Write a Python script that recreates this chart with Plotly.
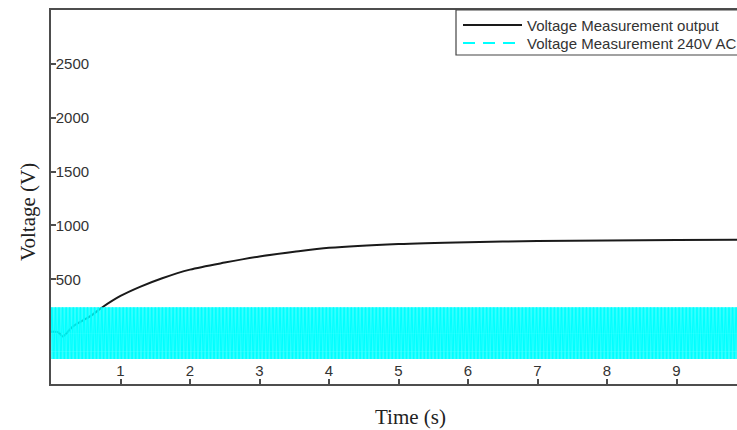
import numpy as np
import plotly.graph_objects as go

# Measured output voltage (V) against time (s)
out_time = [0.0, 0.1, 0.17, 0.31, 0.56, 0.75, 1.0, 1.28, 1.6, 2.0, 2.5, 3.0, 3.5,
            4.0, 5.0, 6.0, 7.0, 8.0, 9.0, 10.0]
out_volt = [12, 10, -30, 60, 155, 245, 345, 430, 510, 590, 655, 712, 755,
            792, 828, 845, 855, 860, 864, 868]

# 240 V AC mains: one period of samples (V), 50 Hz, 10 s record
ac_cycle = [0, 170, 240, 170, 0, -170, -240, -170]
ac_freq = 50.0
ac_duration = 10.0

n_cycles = int(ac_duration * ac_freq)
ac_volt = np.tile(ac_cycle, n_cycles)
ac_time = np.arange(ac_volt.size) / (ac_freq * len(ac_cycle))

series_names = ["Voltage Measurement output", "Voltage Measurement 240V AC"]
x_ticks = [1, 2, 3, 4, 5, 6, 7, 8, 9]
y_ticks = [500, 1000, 1500, 2000, 2500]

BLACK = "#1a1a1a"
CYAN = "#00ffff"
AXIS = "#4d4d4d"

W, H = 737, 430
ML, MT, MB = 51, 10, 46
PW, PH = W - ML, H - MT - MB


def px(x):
    return (x - ML) / PW


def py(y):
    return (H - MB - y) / PH


fig = go.Figure()
fig.add_trace(go.Scatter(
    x=out_time, y=out_volt, mode="lines", name=series_names[0], showlegend=False,
    line=dict(color=BLACK, width=2, shape="spline", smoothing=0.8),
))
fig.add_trace(go.Scatter(
    x=ac_time, y=ac_volt, mode="lines", name=series_names[1], showlegend=False,
    line=dict(color=CYAN, width=1),
))

sans = "Liberation Sans, Arial, sans-serif"
serif = "Liberation Serif, Times New Roman, serif"
tick_font = dict(family=sans, size=15, color="#333333")

# legend box in the top-right corner (runs off the right edge)
shapes = [
    dict(type="rect", xref="paper", yref="paper",
         x0=px(456), x1=px(780), y0=py(55), y1=py(10),
         fillcolor="white", line=dict(color="#444444", width=1.2), layer="above"),
    dict(type="line", xref="paper", yref="paper",
         x0=px(463), x1=px(522), y0=py(25), y1=py(25),
         line=dict(color=BLACK, width=2), layer="above"),
    dict(type="line", xref="paper", yref="paper",
         x0=px(463), x1=px(523), y0=py(43), y1=py(43),
         line=dict(color=CYAN, width=2, dash="12px,8px"), layer="above"),
]

annotations = [
    dict(text=series_names[0], x=px(525), y=py(25), xanchor="left", yanchor="middle"),
    dict(text=series_names[1], x=px(525), y=py(43), xanchor="left", yanchor="middle"),
]
for a in annotations:
    a.update(xref="paper", yref="paper", showarrow=False,
             font=dict(family=sans, size=15, color="#333333"))

annotations += [
    dict(text="Time (s)", x=px(411), y=py(417), xref="paper", yref="paper",
         xanchor="center", yanchor="middle", showarrow=False,
         font=dict(family=serif, size=21, color="#222222")),
    dict(text="Voltage (V)", textangle=-90, x=px(28), y=py(212),
         xref="paper", yref="paper", xanchor="center", yanchor="middle",
         showarrow=False, font=dict(family=serif, size=21, color="#222222")),
]

fig.update_layout(
    width=W, height=H,
    margin=dict(l=ML, r=0, t=MT, b=MB, autoexpand=False),
    paper_bgcolor="white", plot_bgcolor="white",
    showlegend=False,
    xaxis=dict(
        range=[0, 9.87], tickvals=x_ticks, ticks="inside", ticklen=5,
        tickcolor=AXIS, tickwidth=1.5,
        ticklabelposition="inside", tickfont=tick_font,
        showline=True, linecolor=AXIS, linewidth=1.5, mirror=True,
        showgrid=False, zeroline=False,
    ),
    yaxis=dict(
        range=[-472, 3000], tickvals=y_ticks, ticks="inside", ticklen=5,
        tickcolor=AXIS, tickwidth=1.5,
        ticklabelposition="inside", tickfont=tick_font,
        showline=True, linecolor=AXIS, linewidth=1.5, mirror=False,
        showgrid=False, zeroline=False,
    ),
    shapes=shapes,
    annotations=annotations,
)

fig.write_html("out.html")
